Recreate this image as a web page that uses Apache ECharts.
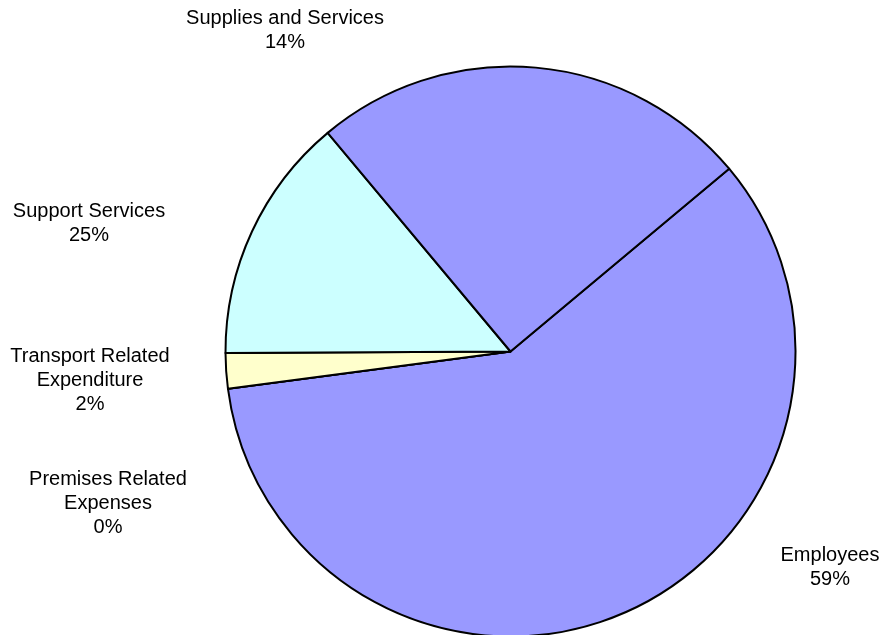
<!DOCTYPE html>
<html>
<head>
<meta charset="utf-8">
<script src="https://cdn.jsdelivr.net/npm/echarts@6/dist/echarts.min.js"></script>
<style>
html, body { margin: 0; padding: 0; background: #fff; }
#chart { width: 883px; height: 635px; }
</style>
</head>
<body>
<div id="chart"></div>
<script>
// Expenditure breakdown, in clockwise order from the upper right
const categories = ['Employees', 'Premises Related\nExpenses', 'Transport Related\nExpenditure', 'Supplies and Services', 'Support Services'];
const values = [59, 0, 2, 14, 25];
const colors = ['#9999FF', '#993366', '#FFFFCC', '#CCFFFF', '#9999FF'];

// Where each label block is centred
const labelSpots = [
  [830, 567],
  [108, 503],
  [90, 380],
  [285, 30],
  [89, 223]
];

const chart = echarts.init(document.getElementById('chart'), null, { renderer: 'canvas' });
chart.setOption({
  animation: false,
  backgroundColor: '#ffffff',
  series: [{
    type: 'pie',
    center: [510.5, 351.5],
    radius: 285,
    startAngle: 39.9,
    clockwise: true,
    minAngle: 0,
    avoidLabelOverlap: false,
    data: categories.map((name, i) => ({
      name: name,
      value: values[i],
      itemStyle: { color: colors[i] }
    })),
    itemStyle: { borderColor: '#000000', borderWidth: 2 },
    label: {
      show: true,
      formatter: p => p.name + '\n' + Math.round(p.percent) + '%',
      fontFamily: 'Liberation Sans, Arial, sans-serif',
      fontSize: 20,
      lineHeight: 24,
      color: '#000000',
      align: 'center'
    },
    labelLine: { show: false },
    labelLayout: p => ({
      x: labelSpots[p.dataIndex][0],
      y: labelSpots[p.dataIndex][1],
      align: 'center',
      verticalAlign: 'middle',
      hideOverlap: false
    }),
    emphasis: { disabled: true }
  }]
});
</script>
</body>
</html>
